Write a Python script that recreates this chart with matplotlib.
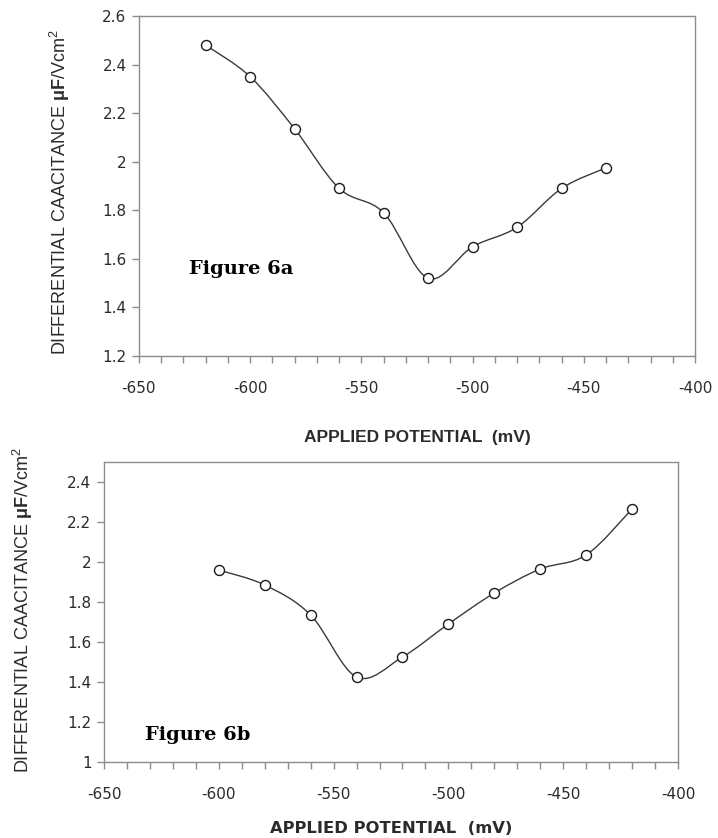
import numpy as np
import matplotlib
matplotlib.use("Agg")
import matplotlib.pyplot as plt
from matplotlib.path import Path
from matplotlib.patches import PathPatch
from matplotlib.ticker import MultipleLocator

SANS = "DejaVu Sans"
plt.rcParams["font.family"] = [SANS]
plt.rcParams["axes.unicode_minus"] = False
plt.rcParams["mathtext.fontset"] = "custom"
plt.rcParams["mathtext.rm"] = "Liberation Sans"
plt.rcParams["mathtext.bf"] = "Liberation Sans:bold"

# Figure 6a data
pot_a = [-620, -600, -580, -560, -540, -520, -500, -480, -460, -440]
cap_a = [2.48, 2.35, 2.135, 1.89, 1.79, 1.52, 1.65, 1.73, 1.89, 1.975]

# Figure 6b data
pot_b = [-600, -580, -560, -540, -520, -500, -480, -460, -440, -420]
cap_b = [1.96, 1.885, 1.735, 1.425, 1.525, 1.69, 1.845, 1.965, 2.035, 2.265]

XLABEL = "APPLIED POTENTIAL  (mV)"
YLABEL = r"DIFFERENTIAL CAACITANCE $\mathbf{μF}$/Vcm$^{\mathrm{2}}$"

LINE_C = "#3a3a3a"
SPINE_C = "#8c8c8c"
TEXT_C = "#2b2b2b"


def smooth_path(x, y):
    """Excel-style smoothed line: Catmull-Rom segments as cubic Beziers."""
    pts = np.column_stack([x, y]).astype(float)
    n = len(pts)
    verts = [pts[0]]
    codes = [Path.MOVETO]
    for i in range(n - 1):
        p0 = pts[i - 1] if i > 0 else pts[i]
        p1 = pts[i]
        p2 = pts[i + 1]
        p3 = pts[i + 2] if i + 2 < n else pts[i + 1]
        c1 = p1 + (p2 - p0) / 6.0
        c2 = p2 - (p3 - p1) / 6.0
        verts += [c1, c2, p2]
        codes += [Path.CURVE4] * 3
    return Path(verts, codes)


def draw_panel(ax, x, y, ylim, yticks, tag, tag_xy):
    ax.add_patch(PathPatch(smooth_path(x, y), facecolor="none",
                           edgecolor=LINE_C, lw=1.0, zorder=2))
    ax.plot(x, y, ls="none", marker="o", ms=7.2, mfc="white",
            mec="#1a1a1a", mew=1.0, zorder=3)
    ax.set_xlim(-650, -400)
    ax.set_ylim(*ylim)
    xt = np.arange(-650, -399, 50)
    ax.set_xticks(xt)
    ax.set_xticklabels([str(v) for v in xt], family=SANS)
    ax.xaxis.set_minor_locator(MultipleLocator(10))
    ax.set_yticks(yticks)
    ax.set_yticklabels([f"{v:g}" for v in yticks], family=SANS)
    for s in ax.spines.values():
        s.set_color(SPINE_C)
        s.set_linewidth(1.0)
    ax.tick_params(axis="both", which="both", direction="out", color=SPINE_C,
                   width=1.0, labelcolor=TEXT_C, labelsize=11)
    ax.tick_params(axis="x", which="both", length=5, pad=13)
    ax.tick_params(axis="y", length=5, pad=4, right=False)
    ax.text(tag_xy[0], tag_xy[1], tag, family="DejaVu Serif",
            fontweight="bold", fontsize=14, color="black", va="center")


fig = plt.figure(figsize=(7.18, 8.38), dpi=100)
W, H = 718.0, 838.0

ax_a = fig.add_axes([139 / W, (H - 356) / H, 556 / W, 340 / H])
draw_panel(ax_a, pot_a, cap_a, (1.2, 2.6), [1.2, 1.4, 1.6, 1.8, 2.0, 2.2, 2.4, 2.6],
           "Figure 6a", (-627.5, 1.56))

ax_b = fig.add_axes([104 / W, (H - 762) / H, 574 / W, 300 / H])
draw_panel(ax_b, pot_b, cap_b, (1.0, 2.5), [1.0, 1.2, 1.4, 1.6, 1.8, 2.0, 2.2, 2.4],
           "Figure 6b", (-632, 1.135))

fig.text(417 / W, 1 - 437 / H, XLABEL, ha="center", va="center",
         color=TEXT_C, fontsize=12.5, fontweight="bold", family="Liberation Sans")
fig.text(391 / W, 1 - 828 / H, XLABEL, ha="center", va="center",
         color=TEXT_C, fontsize=11.8, fontweight="bold", family=SANS)

ylab_kw = dict(color=TEXT_C, fontsize=13, rotation=90, ha="center",
               va="center", family="Liberation Sans")
fig.text(60 / W, 1 - 192 / H, YLABEL, **ylab_kw)
fig.text(23 / W, 1 - 610 / H, YLABEL, **ylab_kw)

fig.savefig("out.png", dpi=100, facecolor="white")
